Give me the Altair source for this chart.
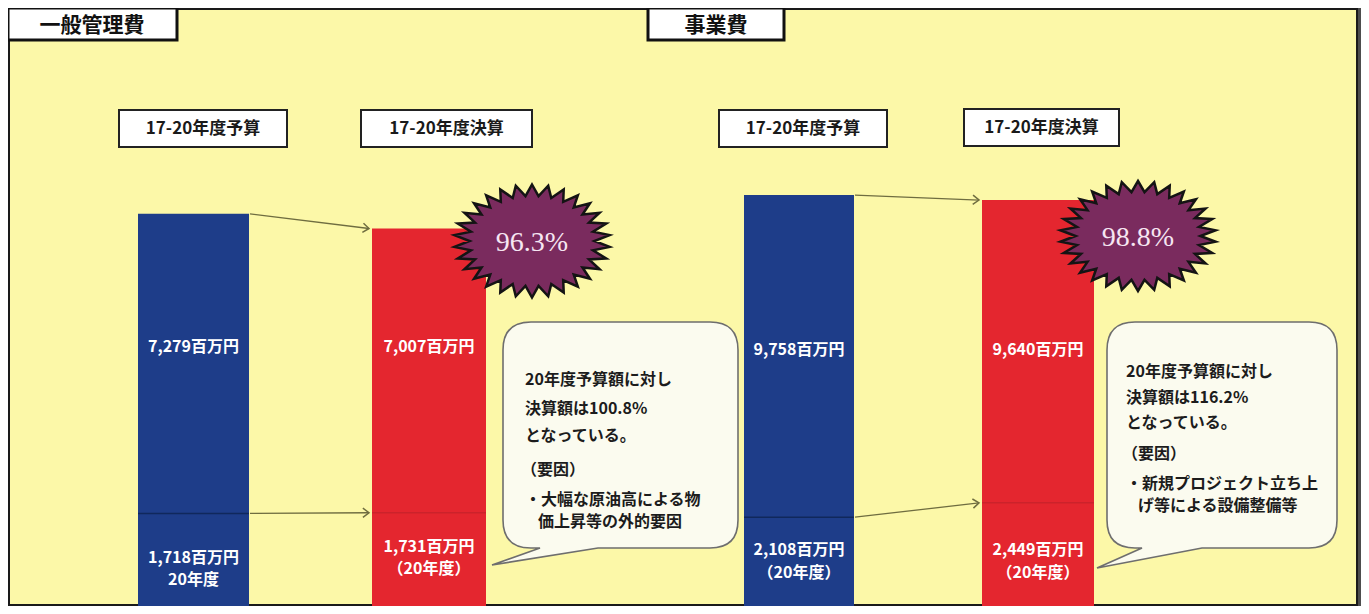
import math
import altair as alt
import pandas as pd

# ---------------- data ----------------
SECTIONS = ["一般管理費", "事業費"]
KINDS = ["17-20年度予算", "17-20年度決算"]
GENERAL_TOTAL = [7279, 7007]      # 百万円
GENERAL_FY20 = [1718, 1731]       # 百万円 (20年度)
PROJECT_TOTAL = [9758, 9640]
PROJECT_FY20 = [2108, 2449]
EXEC_RATE = [96.3, 98.8]          # 決算 / 予算 (%)
FY20_RATE = [100.8, 116.2]        # 20年度 決算 / 予算 (%)
FY20_NOTES = [["20年度", "（20年度）"], ["（20年度）", "（20年度）"]]
REASONS = [["・大幅な原油高による物", "価上昇等の外的要因"],
           ["・新規プロジェクト立ち上", "げ等による設備整備等"]]
TOTALS = [GENERAL_TOTAL, PROJECT_TOTAL]
FY20S = [GENERAL_FY20, PROJECT_FY20]

# ---------------- layout / style ----------------
W, H = 1353, 598
JP = "Noto Sans CJK JP"
SERIF = "Liberation Serif"
YELLOW = "#fcf8a8"
BAR_FILL = ["#1e3d89", "#e4262f"]
DIV_STROKE = ["#10285c", "#cc222b"]
ARROW = "#6f6d40"
PURPLE = "#7a2b5e"

BAR_EDGES = [[(130, 241), (364, 478)], [(736, 846), (974, 1086)]]
Y_MAX = [11100, 14200]
TOTAL_LABEL_Y = [339, 342]
NOTE_LABEL_Y = [[(550, 572), (539, 561)], [(542, 565), (542, 565)]]
TITLE_BOX = [(0, 0, 169, 32, 84), (640, 0, 776, 32, 708)]
HEAD_BOX = [[(111, 102, 279, 139), (353, 102, 524, 139)],
            [(711, 102, 879, 139), (956, 101, 1111, 138)]]
STAR = [(524, 233, 156, 113), (1130, 228, 156, 110)]
BUBBLE = [
    dict(L=495, T=314, R=730, B=540, base=(532, 590), tip=(484, 557),
         tx=517, ys=[372, 401, 428, 462, 492, 514], indent=13),
    dict(L=1099, T=314, R=1329, B=540, base=(1134, 1194), tip=(1089, 560),
         tx=1118, ys=[364, 390, 415, 446, 476, 498], indent=12),
]

ONE = pd.DataFrame({"k": [0]})


def rect(x0, y0, x1, y1, **mark):
    return alt.Chart(ONE).mark_rect(**mark).encode(
        x=alt.value(x0), x2=alt.value(x1), y=alt.value(y0), y2=alt.value(y1))


def text(x, y, t, **mark):
    opts = dict(font=JP, baseline="middle", align="center")
    opts.update(mark)
    return alt.Chart(pd.DataFrame({"t": [t]})).mark_text(**opts).encode(
        x=alt.value(x), y=alt.value(y), text="t:N")


def star_path(n, ry, inner):
    pts = []
    for i in range(2 * n):
        a = math.pi * i / n - math.pi / 2
        r = 1.0 if i % 2 == 0 else inner
        pts.append((r * math.cos(a), r * ry * math.sin(a)))
    return "M" + "L".join(f"{x:.4f},{y:.4f}" for x, y in pts) + "Z"


def bubble_path(b, r=28):
    cx, cy = (b["L"] + b["R"]) / 2, (b["T"] + b["B"]) / 2
    L, T, R, B = b["L"], b["T"], b["R"], b["B"]
    b0, b1 = b["base"]
    tx, ty = b["tip"]
    pts = [("M", L + r, T), ("L", R - r, T), ("Q", R, T, R, T + r),
           ("L", R, B - r), ("Q", R, B, R - r, B), ("L", b1, B),
           ("L", tx, ty), ("L", b0, B), ("L", L + r, B),
           ("Q", L, B, L, B - r), ("L", L, T + r), ("Q", L, T, L + r, T)]
    out = []
    for p in pts:
        cmd, vals = p[0], p[1:]
        coords = []
        for i in range(0, len(vals), 2):
            coords.append(f"{(vals[i] - cx) / 100:.4f},{(vals[i + 1] - cy) / 100:.4f}")
        out.append(cmd + " ".join(coords))
    return "".join(out) + "Z", cx, cy


CHEVRON = "M-1,-0.75L0,0L-1,0.75"

layers = []
# panel
layers.append(rect(1, 1, 1349, 597, fill=YELLOW, stroke="#1a1a1a", strokeWidth=2))
layers.append(rect(1350, 0, W, H, fill="#4d4d4d"))

# title boxes
for (x0, y0, x1, y1, tcx), name in zip(TITLE_BOX, SECTIONS):
    layers.append(rect(x0, y0, x1, y1, fill="white", stroke="#111", strokeWidth=3))
    layers.append(text(tcx, (y0 + y1) / 2 + 2, name, fontSize=21, fontWeight="bold", color="#111"))

# header boxes
for s in range(2):
    for (x0, y0, x1, y1), kind in zip(HEAD_BOX[s], KINDS):
        layers.append(rect(x0, y0, x1, y1, fill="white", stroke="#222", strokeWidth=2))
        layers.append(text((x0 + x1) / 2, (y0 + y1) / 2, kind, fontSize=17, fontWeight="bold", color="#1a1a1a"))

# sections: bars, dividers, arrows, labels
for s in range(2):
    df = pd.DataFrame({
        "kind": KINDS,
        "total": TOTALS[s],
        "fy20": FY20S[s],
        "note": FY20_NOTES[s],
        "x0": [e[0] for e in BAR_EDGES[s]],
        "x1": [e[1] for e in BAR_EDGES[s]],
    })
    df["xc"] = (df["x0"] + df["x1"]) / 2
    xs = alt.Scale(domain=[0, W], range=[0, W], nice=False, zero=False, padding=0)
    ys = alt.Scale(domain=[0, Y_MAX[s]], nice=False, zero=True, padding=0)
    base = alt.Chart(df)

    bars = base.mark_rect().encode(
        x=alt.X("x0:Q", scale=xs, axis=None), x2="x1:Q",
        y=alt.Y("total:Q", scale=ys, axis=None), y2=alt.datum(0),
        fill=alt.Fill("kind:N", scale=alt.Scale(domain=KINDS, range=BAR_FILL), legend=None))
    divs = base.mark_rule(strokeWidth=1.5).encode(
        x=alt.X("x0:Q", scale=xs, axis=None), x2="x1:Q",
        y=alt.Y("fy20:Q", scale=ys, axis=None),
        stroke=alt.Stroke("kind:N", scale=alt.Scale(domain=KINDS, range=DIV_STROKE), legend=None))

    xf, xt = BAR_EDGES[s][0][1] + 1, BAR_EDGES[s][1][0] - 3
    arr = pd.DataFrame({
        "x_from": [xf, xf], "x_to": [xt, xt],
        "v_from": [TOTALS[s][0], FY20S[s][0]],
        "v_to": [TOTALS[s][1], FY20S[s][1]],
    })
    arr["ang"] = [
        math.degrees(math.atan2((vf - vt) * H / Y_MAX[s], xt - xf)) % 360
        for vf, vt in zip(arr["v_from"], arr["v_to"])
    ]
    abase = alt.Chart(arr)
    lines = abase.mark_rule(stroke=ARROW, strokeWidth=1.3).encode(
        x=alt.X("x_from:Q", scale=xs, axis=None), x2="x_to:Q",
        y=alt.Y("v_from:Q", scale=ys, axis=None), y2="v_to:Q")
    heads = abase.mark_point(shape=CHEVRON, filled=False, stroke=ARROW, strokeWidth=1.5,
                             size=150, opacity=1).encode(
        x=alt.X("x_to:Q", scale=xs, axis=None),
        y=alt.Y("v_to:Q", scale=ys, axis=None),
        angle=alt.Angle("ang:Q", scale=None))

    sec = [bars, divs, lines, heads]
    sec.append(base.transform_calculate(
        lab="format(datum.total, ',') + '百万円'").mark_text(
        font=JP, fontSize=16, fontWeight="bold", color="white", baseline="middle").encode(
        x=alt.X("xc:Q", scale=xs, axis=None), y=alt.value(TOTAL_LABEL_Y[s]), text="lab:N"))
    for i, kind in enumerate(KINDS):
        y1, y2 = NOTE_LABEL_Y[s][i]
        sub = base.transform_filter(alt.datum.kind == kind)
        sec.append(sub.transform_calculate(
            lab="format(datum.fy20, ',') + '百万円'").mark_text(
            font=JP, fontSize=16, fontWeight="bold", color="white", baseline="middle").encode(
            x=alt.X("xc:Q", scale=xs, axis=None), y=alt.value(y1), text="lab:N"))
        sec.append(sub.mark_text(
            font=JP, fontSize=16, fontWeight="bold", color="white", baseline="middle").encode(
            x=alt.X("xc:Q", scale=xs, axis=None), y=alt.value(y2), text="note:N"))
    layers.append(alt.layer(*sec))

# starbursts
for (cx, cy, w, h), rate in zip(STAR, EXEC_RATE):
    path = star_path(30, h / w, 0.8)
    layers.append(alt.Chart(ONE).mark_point(
        shape=path, size=w * w, filled=True, fill=PURPLE, stroke="#141414",
        strokeWidth=2.5, opacity=1).encode(x=alt.value(cx), y=alt.value(cy)))
    layers.append(text(cx, cy + 2, f"{rate:.1f}%", font=SERIF, fontSize=28, color="#f6e6f2"))

# speech bubbles
for b, rate, reason in zip(BUBBLE, FY20_RATE, REASONS):
    path, cx, cy = bubble_path(b)
    layers.append(alt.Chart(ONE).mark_point(
        shape=path, size=40000, filled=True, fill="#fbfbef", stroke="#6e6e6e",
        strokeWidth=1.6, opacity=1).encode(x=alt.value(cx), y=alt.value(cy)))
    lines_txt = ["20年度予算額に対し", f"決算額は{rate:.1f}%", "となっている。", "（要因）",
                 reason[0], reason[1]]
    for j, (t, y) in enumerate(zip(lines_txt, b["ys"])):
        x = b["tx"] + (b["indent"] if j == 5 else 0) - (4 if j == 3 else 0)
        layers.append(text(x, y, t, align="left", fontSize=16, fontWeight="bold", color="#1c1c1c"))

chart = alt.layer(*layers).resolve_scale(y="independent").properties(
    width=W, height=H, autosize=alt.AutoSizeParams(type="none"), padding=0,
    background="white").configure_view(stroke=None)

chart.save("out.html", embed_options={"renderer": "svg", "actions": False})
